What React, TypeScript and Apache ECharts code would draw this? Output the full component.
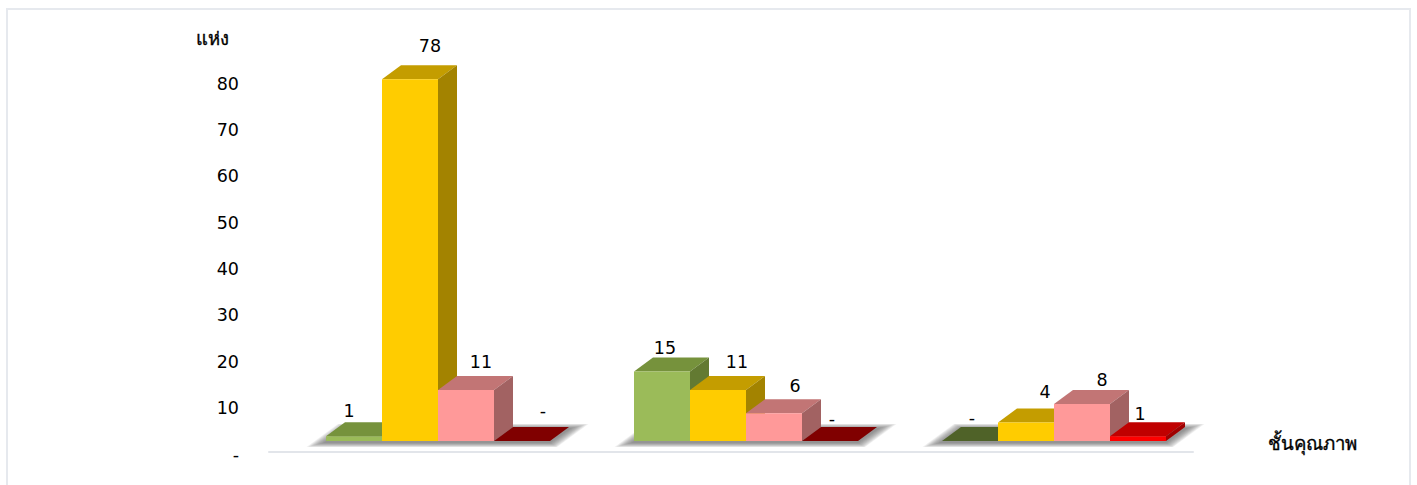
import React, { useEffect, useRef } from "react";
import * as echarts from "echarts";

const categories = ["A", "B", "C"];
const greenValues = [1, 15, 0];
const yellowValues = [78, 11, 4];
const pinkValues = [11, 6, 8];
const redValues = [0, 0, 1];

const FONT = "Tahoma, 'DejaVu Sans', 'Noto Sans', sans-serif";
const SHIFT_X = 15, SHIFT_Y = -13.5, DX = 19, DY = -14, BAR = 56;

const looks = [
  { front: "#9BBB59", top: ["#76923C", "#76923C", "#4F6228"], side: "#637A32" },
  { front: "#FFCC00", top: ["#C49D00", "#C49D00", "#C49D00"], side: "#A38300" },
  { front: "#FF9999", top: ["#C27575", "#C27575", "#C27575"], side: "#A26262" },
  { front: "#FF0000", top: ["#800000", "#800000", "#C00000"], side: "#A00000" },
];
const labelShift = [
  [[-5, -25], [3, -23], [2, -23]],
  [[20, -33], [19, -28], [19, -30]],
  [[15, -28], [21, -27], [20, -24]],
  [[21, -30], [2, -22], [2, -22]],
];

function barSeries(values: number[], s: number) {
  return {
    type: "custom",
    coordinateSystem: "cartesian2d",
    z: 3 + s,
    data: values.map((v, i) => [i, v]),
    renderItem: (_: any, api: any) => {
      const i = api.value(0), v = api.value(1);
      const base = api.coord([i, 0]);
      const top = api.coord([i, v]);
      const x0 = base[0] + SHIFT_X + (s - 2) * BAR;
      const x1 = x0 + BAR;
      const y0 = base[1] + SHIFT_Y;
      const y1 = top[1] + SHIFT_Y;
      const look = looks[s];
      const [lx, ly] = labelShift[s][i];
      const children: any[] = [
        { type: "polygon", shape: { points: [[x0, y1], [x1, y1], [x1 + DX, y1 + DY], [x0 + DX, y1 + DY]] }, style: { fill: look.top[i] } },
      ];
      if (v > 0) {
        children.push(
          { type: "polygon", shape: { points: [[x1, y0], [x1, y1], [x1 + DX, y1 + DY], [x1 + DX, y0 + DY]] }, style: { fill: look.side } },
          { type: "rect", shape: { x: x0, y: y1, width: BAR, height: y0 - y1 }, style: { fill: look.front } }
        );
      }
      children.push({
        type: "text",
        style: { text: v === 0 ? "-" : String(v), x: (x0 + x1) / 2 + lx, y: y1 + ly, fill: "#000", font: `17.5px ${FONT}`, align: "center", verticalAlign: "middle" },
      });
      return { type: "group", children };
    },
  };
}

const SHADOW_STEPS = [0, 1, 2, 3, 4, 5, 6, 7, 8, 9];

const shadowSeries = {
  type: "custom",
  coordinateSystem: "cartesian2d",
  z: 2,
  silent: true,
  data: categories.map((_, i) => [i, 0]),
  renderItem: (_: any, api: any) => {
    const base = api.coord([api.value(0), 0]);
    const x0 = base[0] + SHIFT_X - 2 * BAR;
    const x1 = x0 + 4 * BAR;
    const y0 = base[1] + SHIFT_Y;
    return {
      type: "group",
      children: SHADOW_STEPS.map((k) => {
        const e = k * 1.3;
        return {
          type: "polygon",
          shape: {
            points: [
              [x0 - 3 - e * 1.4, y0 + 2 + e * 0.35],
              [x1 + e * 0.6, y0 + 2 + e * 0.35],
              [x1 + DX + 3 + e * 1.4, y0 + DY + 1 - e * 0.35],
              [x0 + DX - e * 0.6, y0 + DY + 1 - e * 0.35],
            ],
          },
          style: { fill: "rgba(100,100,100,0.1)" },
        };
      }),
    };
  },
};

export default function App() {
  const ref = useRef<HTMLDivElement>(null);
  useEffect(() => {
    const chart = echarts.init(ref.current!, undefined, { renderer: "svg" });
    chart.setOption({
      animation: false,
      backgroundColor: "#fff",
      grid: { left: 269, right: 224, top: 83.5, bottom: 30.5, containLabel: false },
      xAxis: {
        type: "category",
        data: categories,
        offset: -2.5,
        axisLine: { lineStyle: { color: "#E2E5EA", width: 2 } },
        axisTick: { show: false },
        axisLabel: { show: false },
      },
      yAxis: {
        type: "value",
        min: 0,
        max: 80,
        interval: 10,
        splitLine: { show: false },
        axisLine: { show: false },
        axisTick: { show: false },
        axisLabel: {
          margin: 30,
          fontFamily: FONT,
          fontSize: 17.5,
          color: "#000",
          formatter: (v: number) => (v === 0 ? "-" : String(v)),
        },
      },
      graphic: [
        { type: "rect", silent: true, z: 0, shape: { x: 7, y: 9, width: 1403, height: 490 }, style: { fill: "none", stroke: "#E6E9EE", lineWidth: 2 } },
        { type: "text", x: 196, y: 29, style: { text: "แห่ง", font: `18.4px ${FONT}`, fill: "#000", stroke: "#000", lineWidth: 0.35 } },
        { type: "text", x: 1268, y: 434, style: { text: "ชั้นคุณภาพ", font: `18.6px ${FONT}`, fill: "#000", stroke: "#000", lineWidth: 0.35 } },
      ],
      series: [shadowSeries, barSeries(greenValues, 0), barSeries(yellowValues, 1), barSeries(pinkValues, 2), barSeries(redValues, 3)],
    });
    return () => chart.dispose();
  }, []);
  return <div ref={ref} style={{ position: "fixed", left: 0, top: 0, width: 1417, height: 485 }} />;
}
